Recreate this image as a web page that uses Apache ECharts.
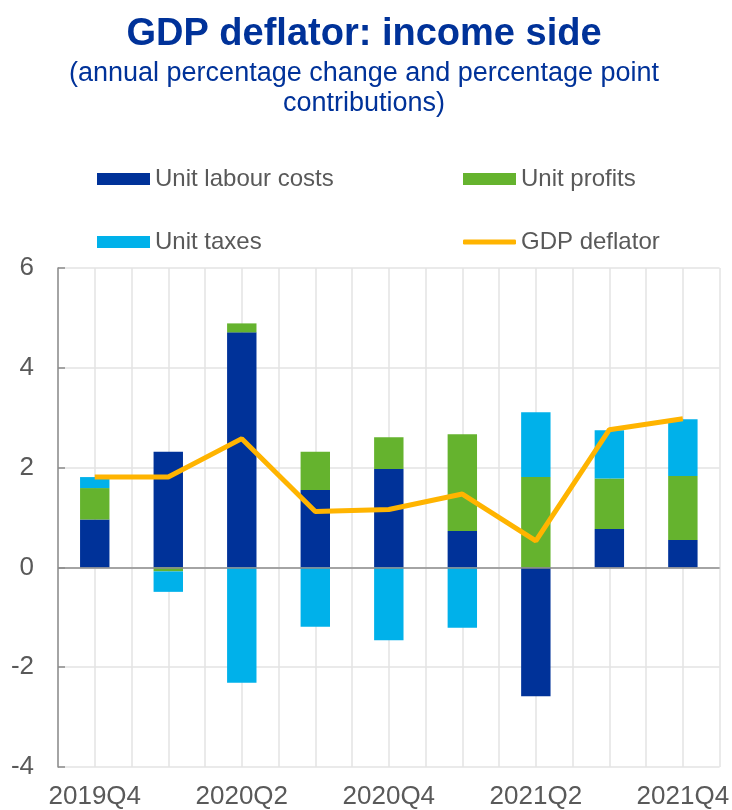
<!DOCTYPE html>
<html>
<head>
<meta charset="utf-8">
<script src="https://cdn.jsdelivr.net/npm/echarts@6/dist/echarts.min.js"></script>
<style>
  html, body { margin: 0; padding: 0; background: #fff; }
  #chart { width: 732px; height: 810px; }
</style>
</head>
<body>
<div id="chart"></div>
<script>
// categories (quarters)
const quarters = ["2019Q4", "2020Q1", "2020Q2", "2020Q3", "2020Q4", "2021Q1", "2021Q2", "2021Q3", "2021Q4"];

// percentage point contributions
const unitLabourCosts = [0.96, 2.32, 4.71, 1.55, 1.97, 0.73, -2.58, 0.77, 0.55];
const unitProfits = [0.63, -0.08, 0.18, 0.77, 0.64, 1.94, 1.81, 1.01, 1.28];
const unitTaxes = [0.22, -0.41, -2.31, -1.19, -1.46, -1.21, 1.30, 0.97, 1.14];

// annual percentage change
const gdpDeflator = [1.81, 1.81, 2.58, 1.12, 1.16, 1.47, 0.53, 2.76, 2.98];

const yTicks = { min: -4, max: 6, interval: 2 };

const blue = "#003299";
const green = "#65b32e";
const lightBlue = "#00b1ea";
const orange = "#ffb400";
const textGrey = "#595959";
const gridGrey = "#e3e3e3";
const axisGrey = "#8c8c8c";
const font = "Liberation Sans";

const chart = echarts.init(document.getElementById("chart"));

// half-category grid lines come from a hidden axis with twice the categories
const halfSlots = [];
quarters.forEach(() => { halfSlots.push(""); halfSlots.push(""); });

const legendBase = {
  orient: "horizontal",
  itemWidth: 53,
  itemHeight: 12,
  itemGap: 5,
  textStyle: { color: textGrey, fontSize: 24, fontFamily: font },
  selectedMode: false
};

const option = {
  animation: false,
  title: {
    left: 359,
    textAlign: "center",
    top: 11,
    text: "GDP deflator: income side",
    subtext: "(annual percentage change and percentage point\ncontributions)",
    itemGap: 5,
    textStyle: { color: blue, fontSize: 38, fontWeight: "bold", fontFamily: font },
    subtextStyle: { color: blue, fontSize: 27, fontFamily: font, lineHeight: 30 }
  },
  legend: [
    Object.assign({}, legendBase, { left: 92, top: 162, data: [{ name: "Unit labour costs", icon: "rect" }] }),
    Object.assign({}, legendBase, { left: 458, top: 162, data: [{ name: "Unit profits", icon: "rect" }] }),
    Object.assign({}, legendBase, { left: 92, top: 225, data: [{ name: "Unit taxes", icon: "rect" }] }),
    Object.assign({}, legendBase, {
      left: 458, top: 225, itemHeight: 5,
      data: [{ name: "GDP deflator", icon: "roundRect" }]
    })
  ],
  grid: { left: 58, right: 10, top: 268, bottom: 42, containLabel: false },
  xAxis: [
    {
      type: "category",
      data: quarters,
      position: "bottom",
      axisLine: { show: false, onZero: false },
      axisTick: { show: false },
      splitLine: { show: false },
      axisLabel: { interval: 1, color: textGrey, fontSize: 26, fontFamily: font, margin: 17 }
    },
    {
      type: "category",
      data: halfSlots,
      position: "bottom",
      boundaryGap: true,
      axisLine: { show: false, onZero: false },
      axisTick: { show: false },
      axisLabel: { show: false },
      splitLine: { show: true, interval: 0, lineStyle: { color: gridGrey, width: 1.5 } }
    }
  ],
  yAxis: {
    type: "value",
    min: yTicks.min,
    max: yTicks.max,
    interval: yTicks.interval,
    axisLine: { show: true, lineStyle: { color: axisGrey, width: 1.5 } },
    axisTick: { show: true, inside: true, length: 7, lineStyle: { color: axisGrey, width: 1.5 } },
    splitLine: { show: true, lineStyle: { color: gridGrey, width: 1.5 } },
    axisLabel: { color: textGrey, fontSize: 26, fontFamily: font, margin: 24 }
  },
  series: [
    {
      name: "Unit labour costs",
      type: "bar",
      stack: "contrib",
      barWidth: "40%",
      itemStyle: { color: blue },
      data: unitLabourCosts,
      markLine: {
        silent: true,
        symbol: ["none", "none"],
        label: { show: false },
        lineStyle: { color: axisGrey, type: "solid", width: 1.5 },
        data: [{ yAxis: 0 }]
      }
    },
    {
      name: "Unit profits",
      type: "bar",
      stack: "contrib",
      itemStyle: { color: green },
      data: unitProfits
    },
    {
      name: "Unit taxes",
      type: "bar",
      stack: "contrib",
      itemStyle: { color: lightBlue },
      data: unitTaxes
    },
    {
      name: "GDP deflator",
      type: "line",
      showSymbol: false,
      symbol: "none",
      itemStyle: { color: orange },
      lineStyle: { color: orange, width: 5 },
      z: 5,
      data: gdpDeflator
    }
  ]
};

chart.setOption(option);
</script>
</body>
</html>
